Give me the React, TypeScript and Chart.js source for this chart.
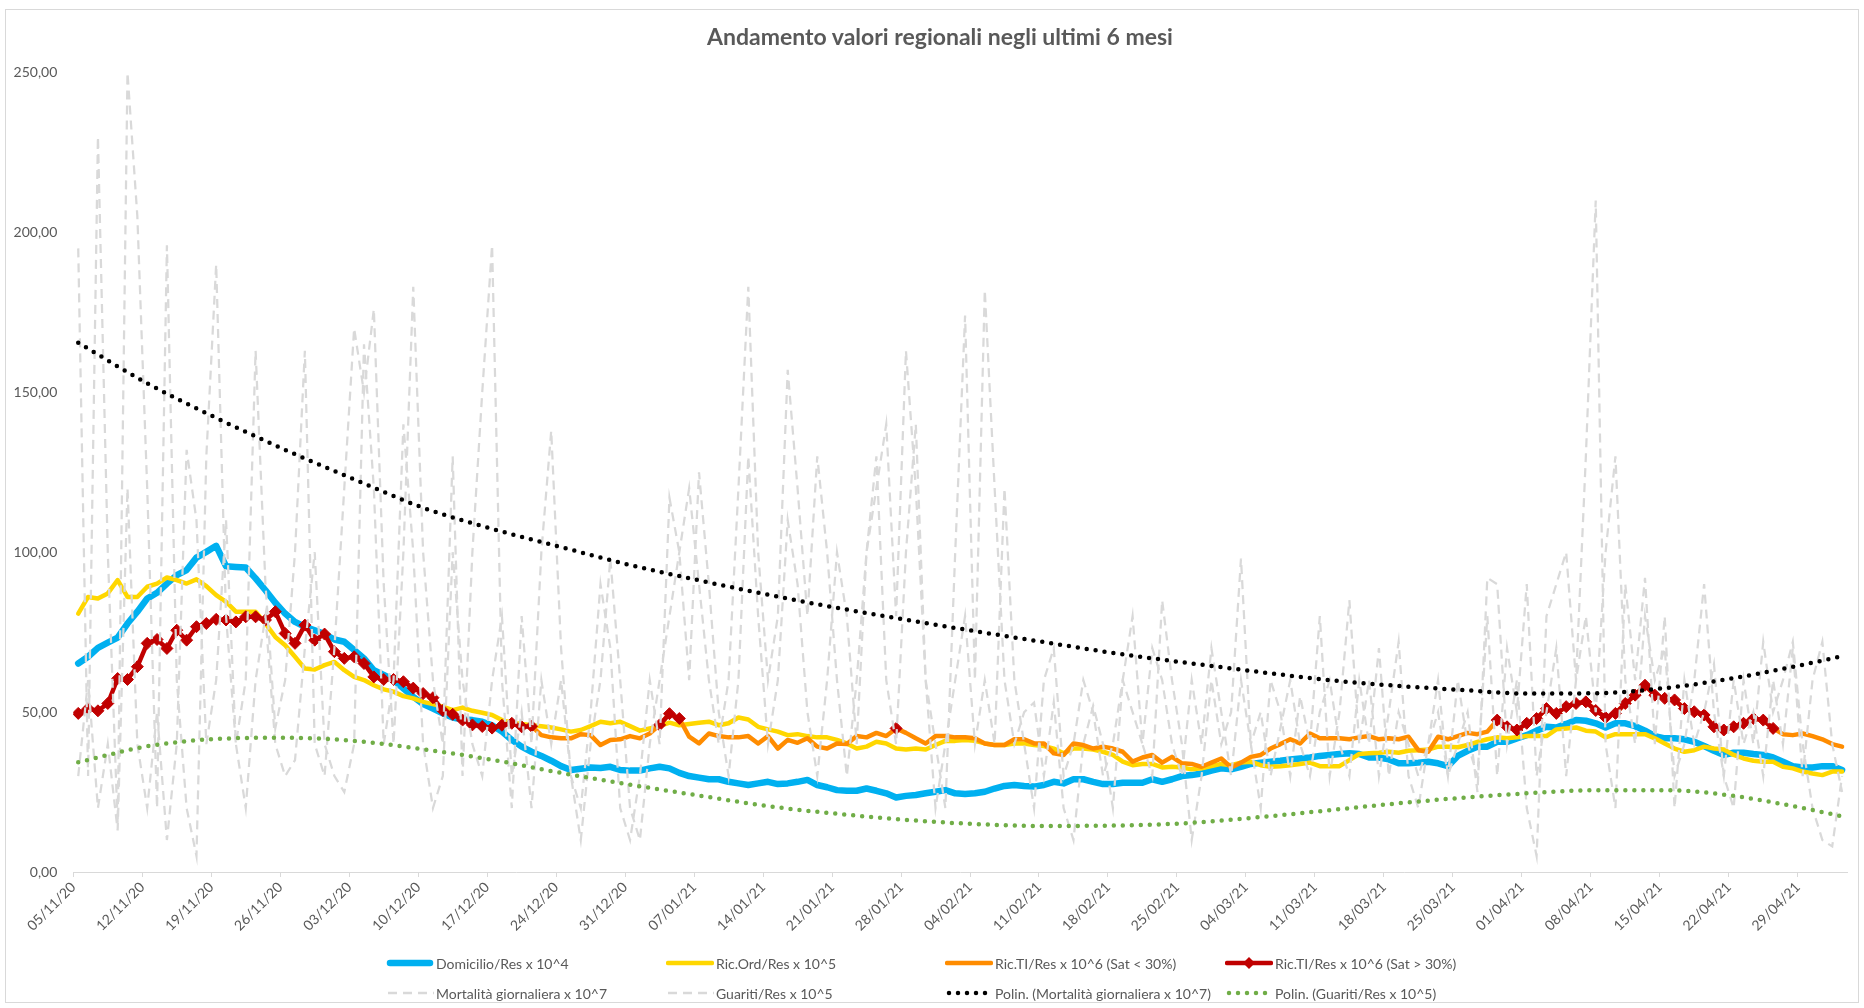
import React, { useEffect, useRef } from 'react';
import { Chart, registerables } from 'chart.js';

Chart.register(...registerables);

const tickLabels = ['05/11/20','12/11/20','19/11/20','26/11/20','03/12/20','10/12/20','17/12/20','24/12/20','31/12/20','07/01/21','14/01/21','21/01/21','28/01/21','04/02/21','11/02/21','18/02/21','25/02/21','04/03/21','11/03/21','18/03/21','25/03/21','01/04/21','08/04/21','15/04/21','22/04/21','29/04/21'];

const yTicks = [0, 50, 100, 150, 200, 250];

const domicilio = [
65.2,67.3,70.1,71.7,73.3,77.7,81.4,85.5,87.3,90.2,92.8,94.4,98.3,100.1,102.0,95.6,95.4,95.2,91.8,88.1,84.2,80.8,78.2,76.7,75.6,74.4,72.7,72.0,69.4,66.8,63.1,61.6,60.0,57.4,54.8,
52.5,51.1,49.6,48.3,47.7,47.5,47.0,45.9,43.9,41.3,39.2,37.6,36.3,34.8,33.1,31.9,32.3,32.7,32.5,32.9,31.9,31.7,31.7,32.4,32.9,32.4,31.0,30.0,29.5,29.0,29.0,28.2,27.7,27.2,27.7,28.2,27.5,
27.7,28.2,28.8,27.2,26.5,25.6,25.4,25.4,26.1,25.4,24.6,23.3,23.8,24.1,24.6,25.1,25.6,24.6,24.4,24.6,25.1,26.1,26.9,27.2,26.9,26.7,27.2,28.2,27.7,29.0,29.0,28.2,27.5,27.5,27.9,27.9,
27.9,29.0,28.2,29.0,30.0,30.3,30.8,31.7,32.4,32.1,32.9,33.8,34.2,34.5,34.8,35.2,35.5,35.8,36.3,36.6,36.9,37.1,36.9,35.8,35.8,35.2,34.0,34.0,34.2,34.5,34.0,33.1,36.3,37.9,39.2,39.2,40.7,
40.7,41.8,42.8,44.2,45.4,45.2,46.3,47.5,47.3,46.5,45.2,46.5,46.5,45.6,44.2,42.5,41.8,41.8,41.5,40.7,39.4,37.9,36.6,37.3,37.3,36.9,36.6,35.8,34.5,33.1,32.7,32.7,33.1,33.1,31.9
];

const ricOrd = [
80.8,86.0,85.5,87.1,91.3,86.0,86.0,89.2,90.2,92.1,91.3,90.2,91.5,89.4,86.6,84.5,81.4,81.4,81.4,77.7,73.5,70.9,67.3,63.6,63.3,64.7,65.7,63.1,61.0,60.0,58.4,57.1,56.4,55.0,54.3,
53.2,52.5,51.7,50.6,51.4,50.4,49.8,49.1,47.5,46.7,46.3,45.9,45.6,45.2,44.6,43.9,44.4,45.6,47.0,46.5,47.0,45.6,44.2,44.9,45.6,46.7,45.9,46.3,46.7,47.0,45.9,46.5,48.3,47.7,45.4,44.6,43.9,
42.8,43.1,42.5,42.1,42.1,41.3,40.2,38.6,39.2,40.7,40.2,38.6,38.3,38.6,38.3,39.7,41.0,41.0,41.3,41.0,40.2,39.7,39.7,40.2,40.2,39.7,39.4,38.6,37.1,38.6,38.6,38.3,37.6,36.6,34.5,33.4,
33.8,33.8,32.7,32.9,32.7,32.1,32.4,33.1,33.8,33.4,34.2,34.5,33.4,32.9,33.1,33.4,33.8,34.2,33.1,33.1,33.1,35.0,36.9,37.1,37.3,37.6,37.3,37.9,38.1,38.3,39.2,39.2,39.0,39.7,40.7,41.5,42.1,
41.8,42.1,42.5,42.5,42.5,44.6,44.9,45.2,44.2,43.9,42.1,43.1,43.1,43.1,43.1,41.8,40.2,38.6,37.6,38.1,39.2,38.6,38.3,36.6,35.5,34.8,34.5,34.5,32.9,32.4,31.4,30.8,30.3,31.4,31.4
];

const ricTiLow = [
null,null,null,null,null,null,null,null,null,null,null,null,null,null,null,null,null,null,null,null,null,null,null,null,null,null,null,null,null,null,null,null,null,null,null,null,null,null,null,null,null,null,null,null,null,null,
45.6,42.8,42.1,41.8,41.8,43.1,42.8,39.7,41.3,41.5,42.5,41.8,43.3,46.0,49.5,48.0,42.3,40.2,43.3,42.5,42.1,42.1,42.5,40.2,42.5,38.6,
41.3,40.4,41.8,39.2,38.6,40.2,40.0,42.5,42.1,43.5,42.5,44.9,43.5,41.8,40.2,42.5,42.5,42.1,42.1,41.8,40.2,39.7,39.7,41.5,41.5,40.2,40.2,37.1,36.6,40.2,39.7,38.6,39.2,38.6,37.6,34.5,
35.8,36.6,34.2,36.0,34.0,33.8,32.9,34.2,35.5,32.7,34.2,36.0,36.6,38.6,40.0,41.5,40.2,43.3,41.8,41.8,41.8,41.5,42.1,42.5,41.5,41.8,41.5,42.3,38.1,37.6,42.3,41.5,42.5,43.5,43.1,43.9,47.5,
45.4,44.4,46.5,48.0,51.1,49.6,51.7,52.7,53.2,50.5,48.3,49.6,52.7,55.3,58.4,55.3,54.3,53.8,51.1,50.1,49.1,45.4,44.4,45.4,46.5,48.0,47.5,44.9,
43.1,42.8,43.3,42.5,41.5,40.0,39.2
];

const ricTiHigh = [
49.6,51.1,50.4,52.7,60.5,60.2,64.2,71.5,72.7,69.9,75.6,72.5,76.7,77.7,79.0,78.8,78.2,79.8,79.8,78.8,81.4,74.6,71.5,77.2,72.5,74.4,68.9,66.8,67.3,65.2,61.0,60.2,60.2,59.5,57.5,55.8,54.5,50.5,49.3,47.5,46.0,45.5,45.0,45.9,46.5,45.4,45.6,
null,null,null,null,null,null,null,null,null,null,null,null,
46.0,49.5,48.0,
null,null,null,null,null,null,null,null,null,null,null,null,null,null,null,null,null,null,null,null,null,
44.9,
null,null,null,null,null,null,null,null,null,null,null,null,null,null,null,null,null,null,null,null,null,null,null,null,null,null,null,null,null,null,
null,null,null,null,null,null,null,null,null,null,null,null,null,null,null,null,null,null,null,null,null,null,null,null,null,null,null,null,null,null,
47.5,45.4,44.4,46.5,48.0,51.1,49.6,51.7,52.7,53.2,50.5,48.3,49.6,52.7,55.3,58.4,55.3,54.3,53.8,51.1,50.1,49.1,45.4,44.4,45.4,46.5,48.0,47.5,44.9,
null,null,null,null,null,null,null
];

const mortalita = [
195,30,230,100,15,250,205,120,20,196,60,20,5,130,190,80,40,60,163,90,45,60,100,163,40,30,70,120,170,150,
176,90,40,100,183,100,60,40,130,30,100,150,196,60,20,80,40,100,138,70,30,10,40,60,98,60,20,10,40,60,
80,100,120,90,60,40,60,120,183,100,60,80,157,120,80,130,100,60,30,60,100,120,140,80,163,120,60,40,20,100,
174,60,182,120,60,40,50,53,30,53,20,10,40,52,40,20,60,80,40,30,85,60,40,10,30,60,40,50,98,40,
20,60,50,30,55,40,80,30,50,85,40,60,30,50,72,30,20,40,60,30,40,50,25,92,90,40,60,20,5,80,
90,100,60,130,210,40,20,90,60,92,40,80,20,60,40,50,65,30,20,60,40,72,50,60,72,40,20,10,8,30
];

const guariti = [
30,60,20,40,13,120,40,20,50,10,40,132,110,40,60,110,40,20,60,80,40,30,35,70,100,40,30,25,40,165,
120,40,60,140,100,40,20,30,100,60,40,30,60,80,30,50,20,60,40,60,30,20,50,90,70,20,10,30,60,40,
117,100,60,125,90,50,30,60,130,80,40,60,110,90,50,30,60,100,80,40,100,130,60,40,100,140,60,20,40,60,
80,40,60,40,120,60,40,20,60,70,30,40,60,50,30,40,60,50,40,70,60,40,30,60,40,70,50,30,60,40,
50,30,45,60,40,30,50,60,40,30,60,40,70,30,50,40,30,40,50,30,60,40,30,80,30,70,50,90,30,50,
70,30,60,80,50,100,130,60,40,80,60,70,30,40,60,90,50,30,60,40,50,30,60,40,70,30,60,72,40,25
];

const trendDays = [0,7,14,21,28,35,42,49,56,63,70,77,84,91,98,105,112,119,126,133,140,147,154,161,168,175,179];
const polyMortalita = [165.5,152.8,142.0,132.0,122.8,113.9,107.3,101.6,96.0,91.2,86.7,82.6,78.9,75.3,71.9,68.5,65.6,62.9,60.3,58.4,57.0,55.8,55.9,57.5,60.6,64.8,67.5];
const polyGuariti = [34.3,39.3,41.6,42.0,41.0,38.4,35.1,31.0,27.3,23.9,20.6,18.2,16.3,15.0,14.4,14.5,15.2,16.9,19.0,21.2,23.1,24.6,25.6,25.6,23.8,20.0,17.4];

const FONT = 'Lato, "Open Sans", sans-serif';
const TXT = '#595959';

const toPts = (arr: (number | null)[]) => arr.map((v, i) => ({ x: i, y: v }));
const toTrend = (arr: number[]) => arr.map((v, i) => ({ x: trendDays[i], y: v }));

type LegendItem = { label: string; kind: string; color: string };
const legendRows: LegendItem[][] = [
  [
    { label: 'Domicilio/Res x 10^4', kind: 'thick', color: '#00b0f0' },
    { label: 'Ric.Ord/Res x 10^5', kind: 'line', color: '#ffd700' },
    { label: 'Ric.TI/Res x 10^6 (Sat < 30%)', kind: 'line', color: '#ff8c00' },
    { label: 'Ric.TI/Res x 10^6 (Sat > 30%)', kind: 'marker', color: '#c00000' },
  ],
  [
    { label: 'Mortalità giornaliera x 10^7', kind: 'dash', color: '#d9d9d9' },
    { label: 'Guariti/Res x 10^5', kind: 'dash', color: '#d9d9d9' },
    { label: 'Polin. (Mortalità giornaliera x 10^7)', kind: 'dot', color: '#000000' },
    { label: 'Polin. (Guariti/Res x 10^5)', kind: 'dot', color: '#70ad47' },
  ],
];
const legendColX = [386, 666, 945, 1225];
const legendRowY = [963, 993];

function Symbol({ kind, color }: { kind: string; color: string }) {
  const w = 48;
  const h = 14;
  const c = h / 2;
  if (kind === 'thick') return (<svg width={w} height={h}><line x1={4} y1={c} x2={w - 4} y2={c} stroke={color} strokeWidth={6.5} strokeLinecap="round" /></svg>);
  if (kind === 'line') return (<svg width={w} height={h}><line x1={2} y1={c} x2={w - 2} y2={c} stroke={color} strokeWidth={4.5} strokeLinecap="round" /></svg>);
  if (kind === 'marker') return (<svg width={w} height={h}><line x1={2} y1={c} x2={w - 2} y2={c} stroke={color} strokeWidth={4.5} strokeLinecap="round" /><polygon points={`${w / 2 - 6},${c} ${w / 2},${c - 6} ${w / 2 + 6},${c} ${w / 2},${c + 6}`} fill={color} /></svg>);
  if (kind === 'dash') return (<svg width={w} height={h}><line x1={2} y1={c} x2={w} y2={c} stroke={color} strokeWidth={2.5} strokeDasharray="9 6" /></svg>);
  return (<svg width={w} height={h}><line x1={4} y1={c} x2={w} y2={c} stroke={color} strokeWidth={4.5} strokeDasharray="0 9" strokeLinecap="round" /></svg>);
}

export default function App() {
  const ref = useRef<HTMLCanvasElement | null>(null);
  useEffect(() => {
    const prevMargin = document.body.style.margin;
    document.body.style.margin = '0';
    const ctx = ref.current!.getContext('2d')!;
    const chart = new Chart(ctx, {
      type: 'line',
      data: {
        datasets: [
          { label: 'Domicilio/Res x 10^4', data: toPts(domicilio), borderColor: '#00b0f0', backgroundColor: '#00b0f0', borderWidth: 6.5, pointRadius: 0, borderJoinStyle: 'round', borderCapStyle: 'round', order: 7 },
          { label: 'Ric.Ord/Res x 10^5', data: toPts(ricOrd), borderColor: '#ffd700', backgroundColor: '#ffd700', borderWidth: 4.5, pointRadius: 0, borderJoinStyle: 'round', borderCapStyle: 'round', order: 6 },
          { label: 'Ric.TI/Res x 10^6 (Sat < 30%)', data: toPts(ricTiLow), borderColor: '#ff8c00', backgroundColor: '#ff8c00', borderWidth: 4.5, pointRadius: 0, borderJoinStyle: 'round', borderCapStyle: 'round', order: 5 },
          { label: 'Ric.TI/Res x 10^6 (Sat > 30%)', data: toPts(ricTiHigh), borderColor: '#c00000', backgroundColor: '#c00000', borderWidth: 4.5, pointRadius: 6, pointStyle: 'rectRot', pointBorderWidth: 1, pointBorderColor: '#c00000', pointBackgroundColor: '#c00000', borderJoinStyle: 'round', order: 4 },
          { label: 'Mortalità giornaliera x 10^7', data: toPts(mortalita), borderColor: '#d9d9d9', borderWidth: 2.25, borderDash: [9, 6], pointRadius: 0, order: 3 },
          { label: 'Guariti/Res x 10^5', data: toPts(guariti), borderColor: '#d9d9d9', borderWidth: 2.25, borderDash: [9, 6], pointRadius: 0, order: 2 },
          { label: 'Polin. (Guariti/Res x 10^5)', data: toTrend(polyGuariti), borderColor: '#70ad47', borderWidth: 4.5, borderDash: [0, 9], borderCapStyle: 'round', pointRadius: 0, cubicInterpolationMode: 'monotone', order: 1 },
          { label: 'Polin. (Mortalità giornaliera x 10^7)', data: toTrend(polyMortalita), borderColor: '#000000', borderWidth: 4.5, borderDash: [0, 9], borderCapStyle: 'round', pointRadius: 0, cubicInterpolationMode: 'monotone', order: 0 },
        ] as any,
      },
      options: {
        animation: false,
        responsive: false,
        devicePixelRatio: 1,
        layout: { padding: { left: 0, top: 72.5, right: 17, bottom: 76 } },
        plugins: { legend: { display: false }, tooltip: { enabled: false }, title: { display: false } },
        scales: {
          x: {
            type: 'linear',
            min: -0.5,
            max: 179.5,
            afterBuildTicks: (s: any) => { s.ticks = tickLabels.map((_, k) => ({ value: k * 7 - 0.5 })); },
            afterFit: (s: any) => { s.height = 60; },
            ticks: { autoSkip: false, maxRotation: 45, minRotation: 45, color: TXT, font: { family: FONT, size: 14 }, padding: 2, callback: (_v: any, i: number) => tickLabels[i] },
            grid: { display: true, drawOnChartArea: false, drawTicks: true, tickLength: 5, color: '#d9d9d9' },
            border: { display: true, color: '#d9d9d9' },
          },
          y: {
            min: 0,
            max: 250,
            afterBuildTicks: (s: any) => { s.ticks = yTicks.map((v) => ({ value: v })); },
            afterFit: (s: any) => { s.width = 73.3; },
            ticks: { color: TXT, font: { family: FONT, size: 14 }, padding: 16, callback: (v: any) => Number(v).toFixed(2).replace('.', ',') },
            grid: { display: false, drawTicks: false },
            border: { display: false },
          },
        },
      } as any,
    });
    return () => { chart.destroy(); document.body.style.margin = prevMargin; };
  }, []);

  return (
    <div style={{ position: 'absolute', left: 0, top: 0, width: 1864, height: 1008, background: '#fff', fontFamily: FONT }}>
      <div style={{ position: 'absolute', left: 5, top: 9, width: 1852, height: 992, border: '1px solid #d9d9d9' }} />
      <canvas ref={ref} width={1864} height={1008} style={{ position: 'absolute', left: 0, top: 0, width: 1864, height: 1008 }} />
      <div style={{ position: 'absolute', left: 8, width: 1864, top: 21, textAlign: 'center', fontSize: 23, fontWeight: 700, color: TXT, lineHeight: '30px' }}>
        Andamento valori regionali negli ultimi 6 mesi
      </div>
      {legendRows.map((row, r) => row.map((it, c) => (
        <div key={`${r}-${c}`} style={{ position: 'absolute', left: legendColX[c], top: legendRowY[r] - 10, height: 20, display: 'flex', alignItems: 'center', whiteSpace: 'nowrap', fontSize: 14, color: TXT }}>
          <Symbol kind={it.kind} color={it.color} />
          <span style={{ marginLeft: 2 }}>{it.label}</span>
        </div>
      )))}
    </div>
  );
}
